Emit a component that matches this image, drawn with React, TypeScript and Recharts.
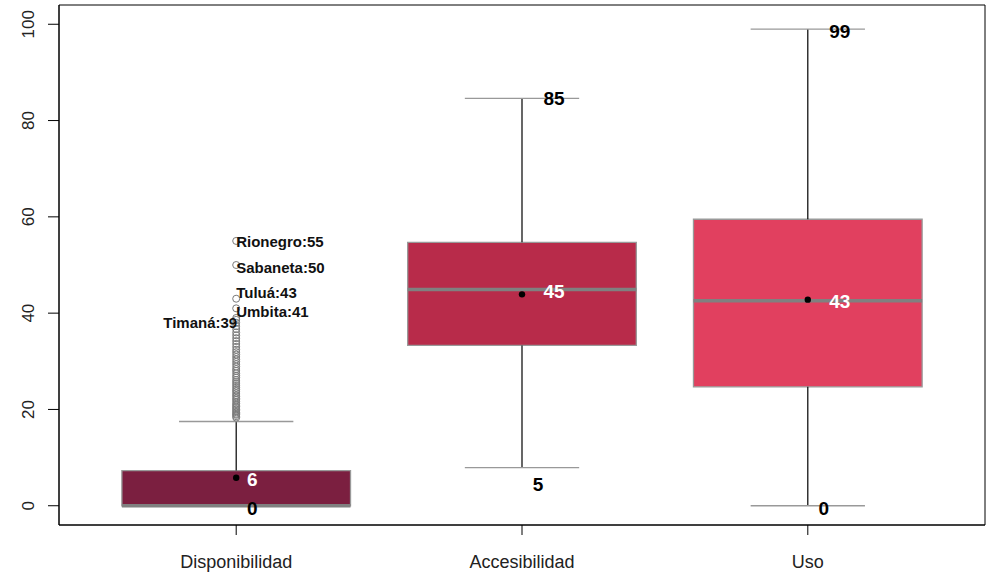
import React from 'react';
import { ComposedChart, XAxis, YAxis, Scatter, ReferenceArea, ReferenceLine } from 'recharts';

const categories = ['Disponibilidad', 'Accesibilidad', 'Uso'];
const q1 = [0, 33.3, 24.7];
const medians = [0, 44.9, 42.6];
const q3 = [7.3, 54.7, 59.5];
const lowerWhisker = [0, 7.9, 0];
const upperWhisker = [17.5, 84.6, 99];
const means = [5.8, 43.9, 42.8];
const boxColors = ['#7B1F40', '#B82B4A', '#E1405F'];

// value labels: category index, value, text colour
const labelCat = [0, 0, 1, 1, 1, 2, 2, 2];
const labelValue = [6, 0, 85, 45, 5, 99, 43, 0];
const labelColor = ['#fff', '#000', '#000', '#fff', '#000', '#000', '#fff', '#000'];

// outliers of Disponibilidad
const outliers = [18.3, 18.6, 18.9, 19.1, 19.4, 19.7, 20, 20.3, 20.6, 20.9, 21.2, 21.6, 22, 22.3, 22.7, 23, 23.4, 23.8, 24.1, 24.5, 24.9, 25.3, 25.7, 26.1, 26.6, 27, 27.5, 28, 28.4, 28.9, 29.4, 29.9, 30.4, 30.9, 31.4, 31.9, 32.4, 33, 33.6, 34.2, 34.8, 35.4, 36, 36.7, 37.3, 38, 38.6, 39, 41, 43, 50, 55];
const outlierNames = ['Rionegro', 'Sabaneta', 'Tuluá', 'Umbita', 'Timaná'];
const outlierNameValues = [55, 50, 43, 41, 39];
const outlierNameSide = ['right', 'right', 'right', 'right', 'left'];
const outlierNameNudge = [0, 2, -7, 3, 4];

const X_DOMAIN: [number, number] = [0.38, 3.62];
const Y_DOMAIN: [number, number] = [-4, 104];
const yTicks = [0, 20, 40, 60, 80, 100];
const FONT = '"Liberation Sans", Arial, sans-serif';

const valueLabelData = labelValue.map((v, i) => ({ x: labelCat[i] + 1, y: v, text: String(v), color: labelColor[i] }));
const outlierData = outliers.map((v) => ({ x: 1, y: v }));
const meanData = means.map((v, i) => ({ x: i + 1, y: v }));
const outlierNameData = outlierNames.map((n, i) => ({
  x: 1,
  y: outlierNameValues[i],
  text: `${n}:${outlierNameValues[i]}`,
  side: outlierNameSide[i],
  nudge: outlierNameNudge[i],
}));

const YTick = (props: any) => {
  const { x, y, payload } = props;
  return (
    <text x={x} y={y} transform={`rotate(-90, ${x}, ${y})`} textAnchor="middle" fontSize={17} fontFamily={FONT} fill="#222">
      {payload.value}
    </text>
  );
};

const XTick = (props: any) => {
  const { x, y, payload } = props;
  return (
    <text x={x} y={y} dy="0.71em" textAnchor="middle" fontSize={18} fontFamily={FONT} fill="#222">
      {categories[payload.value - 1]}
    </text>
  );
};

const ValueLabel = (props: any) => {
  const { cx, cy, payload } = props;
  const len = payload.text.length;
  return (
    <text x={cx + 16 * len} y={cy} dy={9} textAnchor="middle" fontSize={19} fontWeight="bold" fontFamily={FONT} fill={payload.color}>
      {payload.text}
    </text>
  );
};

const NameLabel = (props: any) => {
  const { cx, cy, payload } = props;
  const right = payload.side === 'right';
  return (
    <text x={right ? cx : cx + 1} y={cy + payload.nudge} dy={6} textAnchor={right ? 'start' : 'end'} fontSize={15} fontWeight="bold" fontFamily={FONT} fill="#111">
      {payload.text}
    </text>
  );
};

const OutlierDot = (props: any) => {
  const { cx, cy } = props;
  return <circle cx={cx} cy={cy} r={3.5} fill="none" stroke="#7a7a7a" strokeWidth={1} />;
};

const MeanDot = (props: any) => {
  const { cx, cy } = props;
  return <circle cx={cx} cy={cy} r={3.2} fill="#000" />;
};

export default function App() {
  return (
    <div style={{ position: 'absolute', left: 0, top: 0, background: '#fff' }}>
      <ComposedChart width={988} height={572} margin={{ top: 5, right: 3, bottom: 0, left: 0 }}>
        <XAxis
          type="number"
          dataKey="x"
          domain={X_DOMAIN}
          ticks={[1, 2, 3]}
          allowDataOverflow
          height={47}
          tickSize={10}
          tickMargin={20}
          tick={<XTick />}
          axisLine={{ stroke: '#000' }}
          tickLine={{ stroke: '#000' }}
        />
        <YAxis
          type="number"
          dataKey="y"
          domain={Y_DOMAIN}
          ticks={yTicks}
          allowDataOverflow
          width={59}
          tickSize={11}
          tickMargin={14}
          tick={<YTick />}
          axisLine={{ stroke: '#000' }}
          tickLine={{ stroke: '#000' }}
        />
        <ReferenceArea x1={X_DOMAIN[0]} x2={X_DOMAIN[1]} y1={Y_DOMAIN[0]} y2={Y_DOMAIN[1]} fill="none" stroke="#000" strokeWidth={1} />
        {categories.map((c, i) => (
          <ReferenceLine key={`wu${c}`} segment={[{ x: i + 1, y: q3[i] }, { x: i + 1, y: upperWhisker[i] }]} stroke="#000" strokeWidth={1.2} />
        ))}
        {categories.map((c, i) => (
          <ReferenceLine key={`wl${c}`} segment={[{ x: i + 1, y: lowerWhisker[i] }, { x: i + 1, y: q1[i] }]} stroke="#000" strokeWidth={1.2} />
        ))}
        {categories.map((c, i) => (
          <ReferenceLine key={`cu${c}`} segment={[{ x: i + 0.8, y: upperWhisker[i] }, { x: i + 1.2, y: upperWhisker[i] }]} stroke="#999" strokeWidth={1.3} />
        ))}
        {categories.map((c, i) => (
          <ReferenceLine key={`cl${c}`} segment={[{ x: i + 0.8, y: lowerWhisker[i] }, { x: i + 1.2, y: lowerWhisker[i] }]} stroke="#999" strokeWidth={1.3} />
        ))}
        {categories.map((c, i) => (
          <ReferenceArea key={`b${c}`} x1={i + 0.6} x2={i + 1.4} y1={q1[i]} y2={q3[i]} fill={boxColors[i]} fillOpacity={1} stroke="#999" strokeWidth={1.3} />
        ))}
        {categories.map((c, i) => (
          <ReferenceLine key={`m${c}`} segment={[{ x: i + 0.6, y: medians[i] }, { x: i + 1.4, y: medians[i] }]} stroke="#808080" strokeWidth={3.5} />
        ))}
        <Scatter data={outlierData} shape={<OutlierDot />} isAnimationActive={false} />
        <Scatter data={meanData} shape={<MeanDot />} isAnimationActive={false} />
        <Scatter data={valueLabelData} shape={<ValueLabel />} isAnimationActive={false} />
        <Scatter data={outlierNameData} shape={<NameLabel />} isAnimationActive={false} />
      </ComposedChart>
    </div>
  );
}
